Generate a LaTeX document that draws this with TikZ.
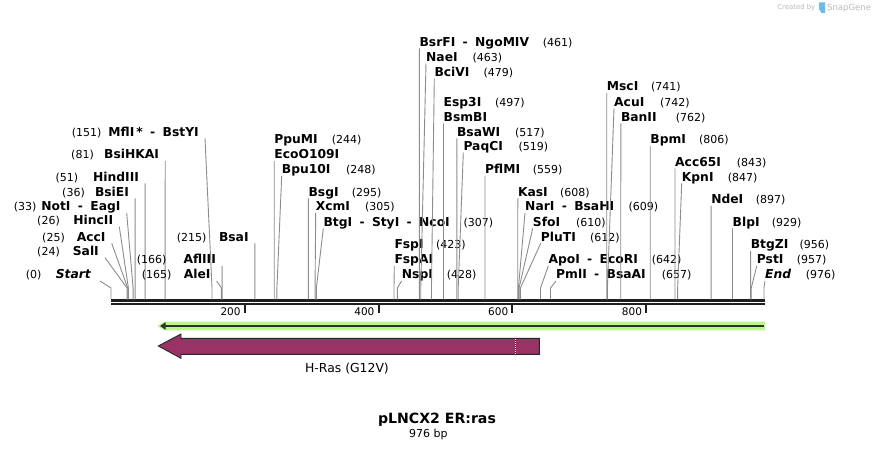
\documentclass[tikz,border=0pt]{standalone}
\usepackage{fontspec}
\setmainfont{DejaVu Sans}
\usepackage{tikz}
\usetikzlibrary{arrows.meta}
\definecolor{rasred}{RGB}{153,51,102}
\definecolor{orfgreen}{RGB}{184,245,138}
\definecolor{orfdark}{RGB}{45,52,40}
\definecolor{cutgray}{RGB}{140,140,140}
\definecolor{brandgray}{RGB}{185,185,185}
\definecolor{brandblue}{RGB}{110,185,235}
\newcommand{\isep}{\hspace{0.6em}-\hspace{0.6em}}

\begin{document}
\begin{tikzpicture}[x=1pt,y=-1pt,
  enz/.style={font=\fontsize{12.3}{14}\selectfont\bfseries,inner sep=0pt},
  enzit/.style={enz,font=\fontsize{12.3}{14}\selectfont\bfseries\itshape},
  num/.style={font=\fontsize{11}{13}\selectfont,inner sep=0pt},
  cut/.style={cutgray,line width=0.9pt},
  bb/.style={line width=2.3pt,black!88},
  tick/.style={line width=2pt,black!88},
  ticklab/.style={font=\fontsize{10.5}{12}\selectfont,inner sep=0pt,anchor=base east}]
\useasboundingbox (0,0) rectangle (876,449);

\node[font=\fontsize{6.9}{8}\selectfont,text=brandgray,inner sep=0pt,anchor=base east] (created) at (815.5,10) {Created by};
\fill[brandblue] (819,2.5) -- (825,2.5) -- (825,13) -- (821.5,13) -- (819,9) -- cycle;
\node[font=\fontsize{8.5}{10}\selectfont,text=brandgray,inner sep=0pt,anchor=base west] (brand) at (827,10.5) {SnapGene};

% backbone and scale
\coordinate (bbl) at (111,300.5);
\coordinate (bbr) at (765,300.5);
\draw[bb] (bbl) -- (bbr);
\draw[bb] ([yshift=-3.7pt]bbl) -- ([yshift=-3.7pt]bbr);
\coordinate (t200) at ({111+0.669*200},305.3);
\coordinate (t400) at ({111+0.669*400},305.3);
\coordinate (t600) at ({111+0.669*600},305.3);
\coordinate (t800) at ({111+0.669*800},305.3);
\draw[tick] (t200) -- ++(0,8);
\draw[tick] (t400) -- ++(0,8);
\draw[tick] (t600) -- ++(0,8);
\draw[tick] (t800) -- ++(0,8);
\node[ticklab] (l200) at ([xshift=-4pt,yshift=-10.5pt]t200) {200};
\node[ticklab] (l400) at ([xshift=-4pt,yshift=-10.5pt]t400) {400};
\node[ticklab] (l600) at ([xshift=-4pt,yshift=-10.5pt]t600) {600};
\node[ticklab] (l800) at ([xshift=-4pt,yshift=-10.5pt]t800) {800};

% sites left of their line
\coordinate (s0) at ({111+0.669*0},299.5);
\node[enzit,anchor=base east] (startl) at (91,279) {Start};
\node[num,anchor=base east] (n0) at (41.7,279) {(0)};
\draw[cut] (s0) -- ++(0,-11.5) -- ([shift={(9pt,-2pt)}]startl.base east);

\coordinate (s24) at ({111+0.669*24},299.5);
\node[enz,anchor=base east] (sali) at (99,255.7) {SalI};
\node[num,anchor=base east] (n24) at (60,255.7) {(24)};
\draw[cut] (s24) -- ++(0,-11.5) -- ([shift={(6pt,-2pt)}]sali.base east);

\coordinate (s25) at ({111+0.669*25},299.5);
\node[enz,anchor=base east] (acci) at (105.7,241.3) {AccI};
\node[num,anchor=base east] (n25) at (65,241.3) {(25)};
\draw[cut] (s25) -- ++(0,-11.5) -- ([shift={(6pt,-2pt)}]acci.base east);

\coordinate (s26) at ({111+0.669*26},299.5);
\node[enz,anchor=base east] (hincii) at (113.3,224.7) {HincII};
\node[num,anchor=base east] (n26) at (60,224.7) {(26)};
\draw[cut] (s26) -- ++(0,-11.5) -- ([shift={(6pt,-2pt)}]hincii.base east);

\coordinate (s33) at ({111+0.669*33},299.5);
\node[enz,anchor=base east] (noti) at (120.7,211) {NotI\isep EagI};
\node[num,anchor=base east] (n33) at (36.7,211) {(33)};
\draw[cut] (s33) -- ++(0,-11.5) -- ([shift={(6pt,-2pt)}]noti.base east);

\coordinate (s36) at ({111+0.669*36},299.5);
\node[enz,anchor=base east] (bsiei) at (129.1,196.3) {BsiEI};
\node[num,anchor=base east] (n36) at (85,196.3) {(36)};
\draw[cut] (s36) -- ++(0,-11.5) -- ([shift={(6pt,-2pt)}]bsiei.base east);

\coordinate (s51) at ({111+0.669*51},299.5);
\node[enz,anchor=base east] (hindiii) at (139.1,181.3) {HindIII};
\node[num,anchor=base east] (n51) at (78.3,181.3) {(51)};
\draw[cut] (s51) -- ++(0,-11.5) -- ([shift={(6pt,-2pt)}]hindiii.base east);

\coordinate (s81) at ({111+0.669*81},299.5);
\node[enz,anchor=base east] (bsihkai) at (159.2,159) {BsiHKAI};
\node[num,anchor=base east] (n81) at (94,159) {(81)};
\draw[cut] (s81) -- ++(0,-11.5) -- ([shift={(6pt,-2pt)}]bsihkai.base east);

\coordinate (s151) at ({111+0.669*151},299.5);
\node[enz,anchor=base east] (mfli) at (199,136.3) {MflI\,*\isep BstYI};
\node[num,anchor=base east] (n151) at (101.7,136.3) {(151)};
\draw[cut] (s151) -- ++(0,-11.5) -- ([shift={(6pt,-2pt)}]mfli.base east);

\coordinate (s165) at ({111+0.669*165},299.5);
\node[enz,anchor=base east] (alei) at (210.7,279) {AleI};
\node[num,anchor=base east] (n165) at (171.7,279) {(165)};
\draw[cut] (s165) -- ++(0,-11.5) -- ([shift={(6pt,-2pt)}]alei.base east);

\coordinate (s166) at ({111+0.669*166},299.5);
\node[enz,anchor=base east] (afliii) at (216.1,264) {AflIII};
\node[num,anchor=base east] (n166) at (166.7,264) {(166)};
\draw[cut] (s166) -- ++(0,-11.5) -- ([shift={(6pt,-2pt)}]afliii.base east);

\coordinate (s215) at ({111+0.669*215},299.5);
\node[enz,anchor=base east] (bsai) at (248.8,241.3) {BsaI};
\node[num,anchor=base east] (n215) at (206.7,241.3) {(215)};
\draw[cut] (s215) -- ++(0,-11.5) -- ([shift={(6pt,-2pt)}]bsai.base east);

% sites right of their line
\coordinate (s244) at ({111+0.669*244},299.5);
\node[enz,anchor=base west] (ppumi) at (274.2,144) {PpuMI};
\node[enz,anchor=base west] (ecoo) at (274.2,159) {EcoO109I};
\node[num,anchor=base west] (n244) at (331.7,144) {(244)};
\draw[cut] (s244) -- ++(0,-11.5) -- ([yshift=-2pt]ecoo.base west);

\coordinate (s248) at ({111+0.669*248},299.5);
\node[enz,anchor=base west] (bpu) at (281.7,174) {Bpu10I};
\node[num,anchor=base west] (n248) at (346,174) {(248)};
\draw[cut] (s248) -- ++(0,-11.5) -- ([yshift=-2pt]bpu.base west);

\coordinate (s295) at ({111+0.669*295},299.5);
\node[enz,anchor=base west] (bsgi) at (308.4,196.3) {BsgI};
\node[num,anchor=base west] (n295) at (351.7,196.3) {(295)};
\draw[cut] (s295) -- ++(0,-11.5) -- ([yshift=-2pt]bsgi.base west);

\coordinate (s305) at ({111+0.669*305},299.5);
\node[enz,anchor=base west] (xcmi) at (315.7,211) {XcmI};
\node[num,anchor=base west] (n305) at (365,211) {(305)};
\draw[cut] (s305) -- ++(0,-11.5) -- ([yshift=-2pt]xcmi.base west);

\coordinate (s307) at ({111+0.669*307},299.5);
\node[enz,anchor=base west] (btgi) at (323.3,226.3) {BtgI\isep StyI\isep NcoI};
\node[num,anchor=base west] (n307) at (463.3,226.3) {(307)};
\draw[cut] (s307) -- ++(0,-11.5) -- ([yshift=-2pt]btgi.base west);

\coordinate (s423) at ({111+0.669*423},299.5);
\node[enz,anchor=base west] (fspi) at (394.3,249) {FspI};
\node[enz,anchor=base west] (fspai) at (394.3,264) {FspAI};
\node[num,anchor=base west] (n423) at (436,249) {(423)};
\draw[cut] (s423) -- ++(0,-11.5) -- ([yshift=-2pt]fspai.base west);

\coordinate (s428) at ({111+0.669*428},299.5);
\node[enz,anchor=base west] (nspi) at (401.7,279) {NspI};
\node[num,anchor=base west] (n428) at (446.7,279) {(428)};
\draw[cut] (s428) -- ++(0,-11.5) -- ([yshift=-2pt]nspi.base west);

\coordinate (s461) at ({111+0.669*461},299.5);
\node[enz,anchor=base west] (bsrfi) at (419.4,46.3) {BsrFI\isep NgoMIV};
\node[num,anchor=base west] (n461) at (542.7,46.3) {(461)};
\draw[cut] (s461) -- ++(0,-11.5) -- ([yshift=-2pt]bsrfi.base west);

\coordinate (s463) at ({111+0.669*463},299.5);
\node[enz,anchor=base west] (naei) at (426,61.3) {NaeI};
\node[num,anchor=base west] (n463) at (472.3,61.3) {(463)};
\draw[cut] (s463) -- ++(0,-11.5) -- ([yshift=-2pt]naei.base west);

\coordinate (s479) at ({111+0.669*479},299.5);
\node[enz,anchor=base west] (bcivi) at (434.3,76.7) {BciVI};
\node[num,anchor=base west] (n479) at (483.3,76.7) {(479)};
\draw[cut] (s479) -- ++(0,-11.5) -- ([yshift=-2pt]bcivi.base west);

\coordinate (s497) at ({111+0.669*497},299.5);
\node[enz,anchor=base west] (esp) at (443.5,106.3) {Esp3I};
\node[enz,anchor=base west] (bsmbi) at (443.5,121.3) {BsmBI};
\node[num,anchor=base west] (n497) at (495,106.3) {(497)};
\draw[cut] (s497) -- ++(0,-11.5) -- ([yshift=-2pt]bsmbi.base west);

\coordinate (s517) at ({111+0.669*517},299.5);
\node[enz,anchor=base west] (bsawi) at (456.9,136.3) {BsaWI};
\node[num,anchor=base west] (n517) at (515,136.3) {(517)};
\draw[cut] (s517) -- ++(0,-11.5) -- ([yshift=-2pt]bsawi.base west);

\coordinate (s519) at ({111+0.669*519},299.5);
\node[enz,anchor=base west] (paqci) at (463.3,150.7) {PaqCI};
\node[num,anchor=base west] (n519) at (518.3,150.7) {(519)};
\draw[cut] (s519) -- ++(0,-11.5) -- ([yshift=-2pt]paqci.base west);

\coordinate (s559) at ({111+0.669*559},299.5);
\node[enz,anchor=base west] (pflmi) at (485,174) {PflMI};
\node[num,anchor=base west] (n559) at (532.7,174) {(559)};
\draw[cut] (s559) -- ++(0,-11.5) -- ([yshift=-2pt]pflmi.base west);

\coordinate (s608) at ({111+0.669*608},299.5);
\node[enz,anchor=base west] (kasi) at (517.8,196.3) {KasI};
\node[num,anchor=base west] (n608) at (560,196.3) {(608)};
\draw[cut] (s608) -- ++(0,-11.5) -- ([yshift=-2pt]kasi.base west);

\coordinate (s609) at ({111+0.669*609},299.5);
\node[enz,anchor=base west] (nari) at (525,211) {NarI\isep BsaHI};
\node[num,anchor=base west] (n609) at (628.3,211) {(609)};
\draw[cut] (s609) -- ++(0,-11.5) -- ([yshift=-2pt]nari.base west);

\coordinate (s610) at ({111+0.669*610},299.5);
\node[enz,anchor=base west] (sfoi) at (532.7,226.3) {SfoI};
\node[num,anchor=base west] (n610) at (576,226.3) {(610)};
\draw[cut] (s610) -- ++(0,-11.5) -- ([yshift=-2pt]sfoi.base west);

\coordinate (s612) at ({111+0.669*612},299.5);
\node[enz,anchor=base west] (pluti) at (540.7,241.3) {PluTI};
\node[num,anchor=base west] (n612) at (590,241.3) {(612)};
\draw[cut] (s612) -- ++(0,-11.5) -- ([yshift=-2pt]pluti.base west);

\coordinate (s642) at ({111+0.669*642},299.5);
\node[enz,anchor=base west] (apoi) at (548.3,264) {ApoI\isep EcoRI};
\node[num,anchor=base west] (n642) at (651.7,264) {(642)};
\draw[cut] (s642) -- ++(0,-11.5) -- ([yshift=-2pt]apoi.base west);

\coordinate (s657) at ({111+0.669*657},299.5);
\node[enz,anchor=base west] (pmli) at (556,279) {PmlI\isep BsaAI};
\node[num,anchor=base west] (n657) at (661.7,279) {(657)};
\draw[cut] (s657) -- ++(0,-11.5) -- ([yshift=-2pt]pmli.base west);

\coordinate (s741) at ({111+0.669*741},299.5);
\node[enz,anchor=base west] (msci) at (606.7,90.7) {MscI};
\node[num,anchor=base west] (n741) at (651,90.7) {(741)};
\draw[cut] (s741) -- ++(0,-11.5) -- ([yshift=-2pt]msci.base west);

\coordinate (s742) at ({111+0.669*742},299.5);
\node[enz,anchor=base west] (acui) at (614,106.3) {AcuI};
\node[num,anchor=base west] (n742) at (660,106.3) {(742)};
\draw[cut] (s742) -- ++(0,-11.5) -- ([yshift=-2pt]acui.base west);

\coordinate (s762) at ({111+0.669*762},299.5);
\node[enz,anchor=base west] (banii) at (620.8,121.3) {BanII};
\node[num,anchor=base west] (n762) at (675.7,121.3) {(762)};
\draw[cut] (s762) -- ++(0,-11.5) -- ([yshift=-2pt]banii.base west);

\coordinate (s806) at ({111+0.669*806},299.5);
\node[enz,anchor=base west] (bpmi) at (650.2,144) {BpmI};
\node[num,anchor=base west] (n806) at (699,144) {(806)};
\draw[cut] (s806) -- ++(0,-11.5) -- ([yshift=-2pt]bpmi.base west);

\coordinate (s843) at ({111+0.669*843},299.5);
\node[enz,anchor=base west] (acc) at (675,166.3) {Acc65I};
\node[num,anchor=base west] (n843) at (736.7,166.3) {(843)};
\draw[cut] (s843) -- ++(0,-11.5) -- ([yshift=-2pt]acc.base west);

\coordinate (s847) at ({111+0.669*847},299.5);
\node[enz,anchor=base west] (kpni) at (681.7,181.3) {KpnI};
\node[num,anchor=base west] (n847) at (727.7,181.3) {(847)};
\draw[cut] (s847) -- ++(0,-11.5) -- ([yshift=-2pt]kpni.base west);

\coordinate (s897) at ({111+0.669*897},299.5);
\node[enz,anchor=base west] (ndei) at (711.1,204) {NdeI};
\node[num,anchor=base west] (n897) at (755.7,204) {(897)};
\draw[cut] (s897) -- ++(0,-11.5) -- ([yshift=-2pt]ndei.base west);

\coordinate (s929) at ({111+0.669*929},299.5);
\node[enz,anchor=base west] (blpi) at (732.5,226.3) {BlpI};
\node[num,anchor=base west] (n929) at (771.7,226.3) {(929)};
\draw[cut] (s929) -- ++(0,-11.5) -- ([yshift=-2pt]blpi.base west);

\coordinate (s956) at ({111+0.669*956},299.5);
\node[enz,anchor=base west] (btgzi) at (750.6,249) {BtgZI};
\node[num,anchor=base west] (n956) at (799.3,249) {(956)};
\draw[cut] (s956) -- ++(0,-11.5) -- ([yshift=-2pt]btgzi.base west);

\coordinate (s957) at ({111+0.669*957},299.5);
\node[enz,anchor=base west] (psti) at (756.7,264) {PstI};
\node[num,anchor=base west] (n957) at (796.7,264) {(957)};
\draw[cut] (s957) -- ++(0,-11.5) -- ([yshift=-2pt]psti.base west);

\coordinate (s976) at ({111+0.669*976},299.5);
\node[enzit,anchor=base west] (endl) at (765,279) {End};
\node[num,anchor=base west] (n976) at (805.7,279) {(976)};
\draw[cut] (s976) -- ++(0,-11.5) -- ([yshift=-2pt]endl.base west);

% features
\fill[orfgreen] (157.3,326) -- (164.3,321.7) -- (765,321.7) -- (765,330.3) -- (164.3,330.3) -- cycle;
\coordinate (orfl) at (160,326);
\coordinate (orfr) at (763.5,326);
\draw[orfdark,line width=2pt,{Triangle[length=5.5pt,width=7pt]}-] (orfl) -- (orfr);

\draw[fill=rasred,draw=black!85,line width=0.9pt] (158.3,346) -- (181,334) -- (181,338.3) -- (539.3,338.3)
  -- (539.3,354.3) -- (181,354.3) -- (181,358.3) -- cycle;
\draw[black!85,line width=1.6pt] (515.5,338.8) -- (515.5,353.8);
\draw[white,line width=1.6pt,dash pattern=on 1pt off 1pt] (515.5,338.8) -- (515.5,353.8);
\node[font=\fontsize{12.4}{14}\selectfont,inner sep=0pt,anchor=base] (hras) at (347,372.7) {H-Ras (G12V)};

\node[font=\fontsize{14.1}{16}\selectfont\bfseries,inner sep=0pt,anchor=base] (title) at (437,423.5) {pLNCX2 ER:ras};
\node[font=\fontsize{11}{13}\selectfont,inner sep=0pt,anchor=base] (size) at (428.3,437.3) {976 bp};
\end{tikzpicture}
\end{document}
